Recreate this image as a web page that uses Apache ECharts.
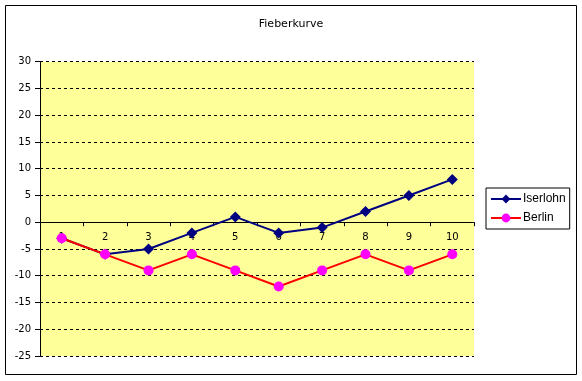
<!DOCTYPE html>
<html>
<head>
<meta charset="utf-8">
<script src="https://cdn.jsdelivr.net/npm/echarts@6/dist/echarts.min.js"></script>
<style>
html,body{margin:0;padding:0;background:#fff;}
#chart{width:582px;height:381px;}
</style>
</head>
<body>
<div id="chart"></div>
<script>
var categories = ['1','2','3','4','5','6','7','8','9','10'];
var iserlohn = [-3, -6, -5, -2, 1, -2, -1, 2, 5, 8];
var berlin = [-3, -6, -9, -6, -9, -12, -9, -6, -9, -6];
var titleText = 'Fieberkurve';
var seriesNames = ['Iserlohn', 'Berlin'];

var FONT = 'DejaVu Sans';
var GRID_TOP = 61.7, GRID_BOTTOM = 25, CH = 381;
var chart = echarts.init(document.getElementById('chart'), null, {renderer: 'canvas'});
chart.setOption({
  animation: false,
  backgroundColor: '#ffffff',
  title: {
    text: titleText,
    left: 'center',
    top: 14,
    textStyle: {fontFamily: FONT, fontSize: 11, fontWeight: 'normal', color: '#000'}
  },
  graphic: [{
    type: 'rect',
    shape: {x: 5.5, y: 5.5, width: 571, height: 369},
    style: {fill: 'none', stroke: '#000', lineWidth: 1},
    silent: true
  }],
  legend: {
    data: seriesNames,
    orient: 'vertical',
    left: 486,
    top: 188,
    borderColor: '#000',
    borderWidth: 1,
    padding: [5, 4, 5, 4],
    itemGap: 7,
    itemWidth: 30,
    itemHeight: 11,
    textStyle: {fontFamily: 'Liberation Sans', fontSize: 12, color: '#000', padding: [0, 0, 0, -3]}
  },
  grid: {
    left: 40, right: 108, top: GRID_TOP, bottom: GRID_BOTTOM,
    show: true, backgroundColor: '#FFFF99', borderWidth: 0,
    containLabel: false
  },
  xAxis: {
    type: 'category',
    data: categories,
    boundaryGap: true,
    axisLine: {onZero: true, lineStyle: {color: '#000', width: 1}},
    axisTick: {show: true, length: 4, lineStyle: {color: '#000'}},
    axisLabel: {fontFamily: FONT, fontSize: 10, color: '#000', margin: 10},
    splitLine: {show: false}
  },
  yAxis: {
    type: 'value',
    min: -25, max: 30, interval: 5,
    axisLine: {show: true, onZero: false, lineStyle: {color: '#000', width: 1}},
    axisTick: {show: true, length: 5, lineStyle: {color: '#000'}},
    axisLabel: {fontFamily: FONT, fontSize: 10, color: '#000', margin: 9},
    splitLine: {show: true, lineStyle: {color: '#000', type: [3, 3], width: 1}}
  },
  series: [{
    name: seriesNames[0],
    type: 'line',
    data: iserlohn,
    symbol: 'diamond',
    symbolSize: 11,
    lineStyle: {color: '#000080', width: 2},
    itemStyle: {color: '#000080'},
    z: 2
  }, {
    name: seriesNames[1],
    type: 'line',
    data: berlin,
    symbol: 'circle',
    symbolSize: 10,
    lineStyle: {color: '#FF0000', width: 2},
    itemStyle: {color: '#FF00FF'},
    z: 3
  }]
});
// Place the category axis on the value axis's zero line (computed through the library's scale)
var zeroY = chart.convertToPixel({yAxisIndex: 0}, 0);
var bottomY = CH - GRID_BOTTOM;
chart.setOption({xAxis: {offset: zeroY - bottomY}});
</script>
</body>
</html>
